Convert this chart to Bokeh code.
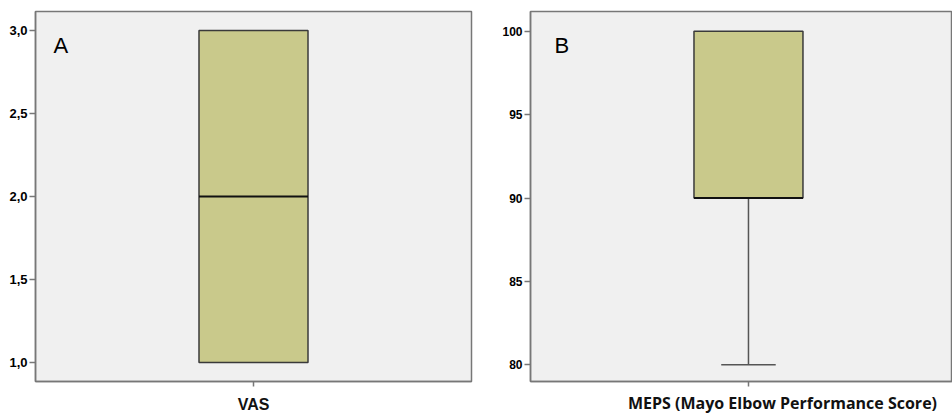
from bokeh.plotting import figure
from bokeh.layouts import row
from bokeh.models import FixedTicker, Label, Range1d
from bokeh.embed import file_html
from bokeh.resources import INLINE

# ---- data ----
panel_letters = ["A", "B"]
variables = ["VAS", "MEPS (Mayo Elbow Performance Score)"]
q1 = [1.0, 90.0]
median = [2.0, 90.0]
q3 = [3.0, 100.0]
whisker_low = [1.0, 80.0]
whisker_high = [3.0, 100.0]
yticks_A = [1.0, 1.5, 2.0, 2.5, 3.0]
ytick_labels_A = ["1,0", "1,5", "2,0", "2,5", "3,0"]
yticks_B = [80, 85, 90, 95, 100]
ytick_labels_B = ["80", "85", "90", "95", "100"]

BOX_FILL = "#c9c98b"
BG = "#f0f0f0"
FRAME = "#777777"


def make_panel(i, width, x_range, y_range, yticks, ylabels, mb_left, mb_right, mb_bottom,
               letter_pos, ylab_size):
    p = figure(width=width, height=416, output_backend="svg", toolbar_location=None,
               x_range=Range1d(*x_range), y_range=Range1d(*y_range),
               min_border_left=mb_left, min_border_right=mb_right,
               min_border_top=11, min_border_bottom=mb_bottom)
    p.background_fill_color = BG
    p.border_fill_color = "white"
    p.outline_line_color = FRAME
    p.outline_line_width = 1.5
    p.xgrid.visible = False
    p.ygrid.visible = False

    x = [0.0]
    w = 0.25
    # whiskers
    p.segment(x0=x, y0=[q3[i]], x1=x, y1=[whisker_high[i]], line_color="#555555", line_width=1.5)
    p.segment(x0=x, y0=[q1[i]], x1=x, y1=[whisker_low[i]], line_color="#555555", line_width=1.5)
    if whisker_low[i] != q1[i]:
        p.segment(x0=[x[0] - w / 4], y0=[whisker_low[i]], x1=[x[0] + w / 4], y1=[whisker_low[i]],
                  line_color="#555555", line_width=1.5)
    if whisker_high[i] != q3[i]:
        p.segment(x0=[x[0] - w / 4], y0=[whisker_high[i]], x1=[x[0] + w / 4], y1=[whisker_high[i]],
                  line_color="#555555", line_width=1.5)
    # box
    p.vbar(x=x, width=w, bottom=[q1[i]], top=[q3[i]], fill_color=BOX_FILL,
           line_color="#3a3a3a", line_width=1.5)
    # median
    p.segment(x0=[x[0] - w / 2], y0=[median[i]], x1=[x[0] + w / 2], y1=[median[i]],
              line_color="#111111", line_width=2)

    # y axis
    ya = p.yaxis[0]
    ya.ticker = FixedTicker(ticks=yticks)
    ya.major_label_overrides = {t: l for t, l in zip(yticks, ylabels)}
    ya.minor_tick_line_color = None
    ya.major_tick_in = 0
    ya.major_tick_out = 6
    ya.major_tick_line_color = FRAME
    ya.major_tick_line_width = 1.5
    ya.axis_line_color = FRAME
    ya.axis_line_width = 1.5
    ya.major_label_standoff = 2
    ya.major_label_text_font = "Liberation Sans"
    ya.major_label_text_font_style = "bold"
    ya.major_label_text_font_size = ylab_size
    ya.major_label_text_color = "black"

    # x axis
    xa = p.xaxis[0]
    xa.minor_tick_in = 0
    xa.minor_tick_out = 5
    xa.minor_tick_line_color = FRAME
    xa.minor_tick_line_width = 1.5
    xa.major_tick_in = 0
    xa.major_tick_line_color = FRAME
    xa.major_tick_line_width = 1.5
    xa.axis_line_color = FRAME
    xa.axis_line_width = 1.5
    xa.major_label_text_font_style = "bold"
    xa.major_label_text_color = "#111111"

    lx, ly = letter_pos
    p.add_layout(Label(x=lx, y=ly, text=panel_letters[i], text_font="Liberation Sans",
                       text_font_size="22px", text_color="black", text_baseline="middle"))
    return p


# Panel A
pA = make_panel(0, 490, (-0.5, 0.5), (0.886, 3.114), yticks_A, ytick_labels_A,
                35, 19, 34, (-0.459, 2.909), "13px")
xa = pA.xaxis[0]
xa.ticker = FixedTicker(ticks=[0.0])
xa.major_label_overrides = {0: variables[0]}
xa.major_tick_out = 5
xa.major_label_standoff = 9
xa.major_label_text_font = "Liberation Sans"
xa.major_label_text_font_size = "16px"

# Panel B (label sits slightly right of the category tick, as in the original)
label_shift = 0.078
pB = make_panel(1, 462, (-0.5, 0.468), (78.99, 101.19), yticks_B, ytick_labels_B,
                40, 0, 34, (-0.445, 99.17), "12px")
xb = pB.xaxis[0]
xb.ticker = FixedTicker(ticks=[label_shift], minor_ticks=[0.0])
xb.major_label_overrides = {label_shift: variables[1]}
xb.major_tick_out = 0
xb.major_label_standoff = 5
xb.major_label_text_font = "Open Sans"
xb.major_label_text_font_size = "16px"

layout = row(pA, pB)
open("out.html", "w").write(file_html(layout, INLINE))
